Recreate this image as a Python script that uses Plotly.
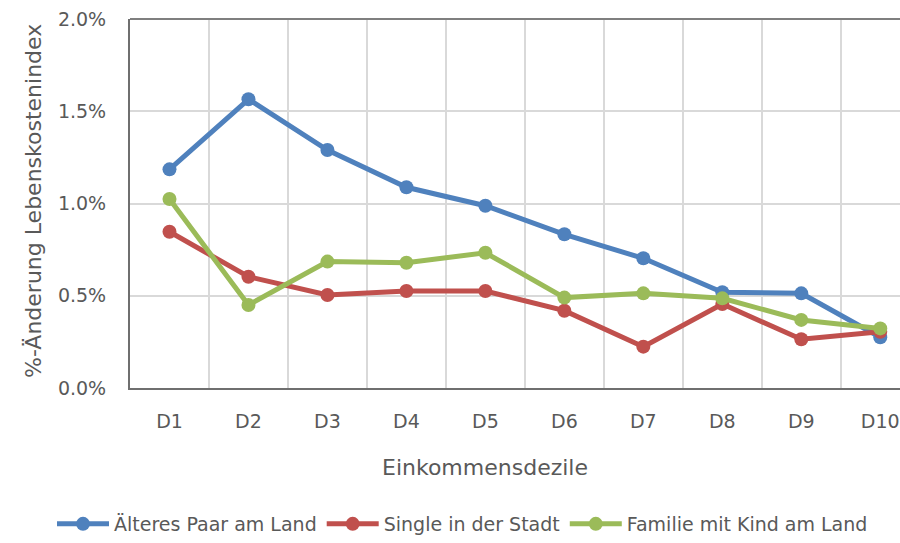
import plotly.graph_objects as go

categories = ["D1", "D2", "D3", "D4", "D5", "D6", "D7", "D8", "D9", "D10"]
aelteres_paar = [1.185, 1.565, 1.29, 1.088, 0.988, 0.833, 0.703, 0.519, 0.513, 0.275]
single_stadt = [0.847, 0.603, 0.504, 0.526, 0.526, 0.419, 0.224, 0.455, 0.264, 0.305]
familie_kind = [1.024, 0.45, 0.685, 0.679, 0.733, 0.49, 0.513, 0.486, 0.369, 0.323]
series_names = ["Älteres Paar am Land", "Single in der Stadt", "Familie mit Kind am Land"]
colors = ["#4F81BD", "#C0504D", "#9BBB59"]
y_ticks = [0, 0.005, 0.01, 0.015, 0.02]

FONT = "DejaVu Sans"
TXT = "#595959"

fig = go.Figure()
for name, vals, col in zip(series_names, [aelteres_paar, single_stadt, familie_kind], colors):
    fig.add_trace(go.Scatter(
        x=categories, y=[v / 100 for v in vals], name=name,
        mode="lines+markers",
        line=dict(color=col, width=5),
        marker=dict(color=col, size=14),
    ))

fig.update_layout(
    width=900, height=543,
    margin=dict(l=130, r=0, t=19, b=155),
    paper_bgcolor="white", plot_bgcolor="white",
    font=dict(family=FONT, color=TXT, size=18),
    showlegend=True,
    legend=dict(orientation="h", xref="paper", yref="paper",
                x=(52 - 130) / 770, xanchor="left", y=(388 - 524) / 369, yanchor="middle",
                font=dict(size=19, color=TXT), itemwidth=52, traceorder="normal"),
)
fig.update_xaxes(
    type="category", range=[-0.5, 9.25], tickson="boundaries",
    showgrid=True, gridcolor="#D9D9D9", gridwidth=2,
    showline=True, linecolor="#6F6F6F", linewidth=2,
    ticks="", ticklabelstandoff=15, automargin=False,
    tickfont=dict(size=19, color=TXT), zeroline=False,
)
fig.update_yaxes(
    range=[0, 0.02], tickvals=y_ticks, tickformat=".1%",
    showgrid=True, gridcolor="#D9D9D9", gridwidth=2,
    showline=True, linecolor="#6F6F6F", linewidth=2,
    ticks="", ticklabelstandoff=18, automargin=False,
    tickfont=dict(size=19, color=TXT), zeroline=False,
)
fig.add_shape(type="line", xref="paper", yref="paper", x0=0, x1=1, y0=1, y1=1,
              line=dict(color="#7F7F7F", width=2))
fig.add_annotation(text="%-Änderung Lebenskostenindex", xref="paper", yref="paper",
                   x=(33 - 130) / 770, y=(388 - 201) / 369, textangle=-90,
                   showarrow=False, font=dict(size=22, color=TXT),
                   xanchor="center", yanchor="middle")
fig.add_annotation(text="Einkommensdezile", xref="paper", yref="paper",
                   x=(485 - 130) / 770, y=(388 - 467) / 369,
                   showarrow=False, font=dict(size=22, color=TXT),
                   xanchor="center", yanchor="middle")

fig.write_html("out.html", config={"displayModeBar": False},
               post_script="document.body.style.margin='0';document.body.style.overflow='hidden';")
